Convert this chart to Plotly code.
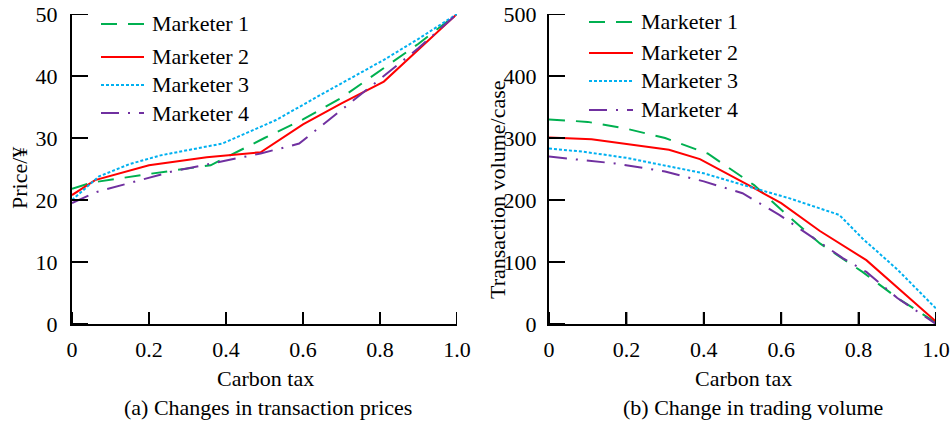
import plotly.graph_objects as go

# ---- (a) transaction price vs carbon tax ----
price_m1_x = [0, 0.05, 0.2, 0.36, 0.5, 0.6, 0.7, 0.8, 0.9, 1.0]
price_m1_y = [21.8, 22.8, 24.2, 25.6, 30.0, 33.0, 36.5, 40.8, 45.2, 50.0]
price_m2_x = [0, 0.06, 0.2, 0.35, 0.49, 0.6, 0.7, 0.81, 1.0]
price_m2_y = [20.8, 23.2, 25.6, 26.9, 27.7, 32.2, 35.6, 39.1, 50.0]
price_m3_x = [0, 0.07, 0.15, 0.23, 0.39, 0.53, 0.65, 0.81, 0.9, 1.0]
price_m3_y = [20.0, 23.8, 25.8, 27.2, 29.1, 32.9, 37.1, 42.6, 46.0, 50.0]
price_m4_x = [0, 0.064, 0.26, 0.49, 0.59, 0.7, 0.78, 0.9, 1.0]
price_m4_y = [19.5, 21.3, 24.6, 27.5, 29.1, 34.5, 38.5, 44.5, 50.0]

# ---- (b) trading volume vs carbon tax ----
vol_m1_x = [0, 0.1, 0.2, 0.3, 0.41, 0.53, 0.62, 0.7, 0.81, 0.9, 1.0]
vol_m1_y = [330, 326, 315, 300, 275, 224, 173, 130, 84, 42, 2]
vol_m2_x = [0, 0.11, 0.31, 0.39, 0.53, 0.6, 0.7, 0.82, 1.0]
vol_m2_y = [301, 298, 281, 266, 219, 195, 150, 103, 4]
vol_m3_x = [0, 0.087, 0.2, 0.3, 0.4, 0.53, 0.62, 0.75, 0.81, 0.9, 1.0]
vol_m3_y = [283, 278, 268, 256, 243, 219, 203, 176, 138, 88, 25]
vol_m4_x = [0, 0.17, 0.3, 0.4, 0.5, 0.595, 0.68, 0.76, 0.82, 0.9, 1.0]
vol_m4_y = [270, 259, 246, 230, 211, 176, 140, 106, 84, 42, 0]

names = ["Marketer 1", "Marketer 2", "Marketer 3", "Marketer 4"]
colors = ["#00B050", "#FF0000", "#00B0F0", "#7030A0"]
dashes = ["16px,11px", "solid", "3px,2px", "18px,9px,2px,9px"]

x_tickvals = [0, 0.2, 0.4, 0.6, 0.8, 1.0]
x_ticktext = ["0", "0.2", "0.4", "0.6", "0.8", "1.0"]
price_ticks = [0, 10, 20, 30, 40, 50]
vol_ticks = [0, 100, 200, 300, 400, 500]

FONT = "Liberation Serif, Times New Roman, serif"
W, H = 952, 423
X_TICK_LEN, Y_TICK_LEN = 12, 16

# plot-area edges in pixels
LEFT_PANEL = (72, 457)
RIGHT_PANEL = (549, 936)
TOP, BOTTOM = 14, 324
X_RANGE = [0, 1]
PRICE_RANGE = [0, 50]
VOL_RANGE = [0, 500]

fig = go.Figure()

price_series = [(price_m1_x, price_m1_y), (price_m2_x, price_m2_y),
                (price_m3_x, price_m3_y), (price_m4_x, price_m4_y)]
vol_series = [(vol_m1_x, vol_m1_y), (vol_m2_x, vol_m2_y),
              (vol_m3_x, vol_m3_y), (vol_m4_x, vol_m4_y)]

for i, (xs, ys) in enumerate(price_series):
    fig.add_trace(go.Scatter(x=xs, y=ys, mode="lines", name=names[i],
                             line=dict(color=colors[i], width=2, dash=dashes[i]),
                             xaxis="x", yaxis="y", showlegend=False))
for i, (xs, ys) in enumerate(vol_series):
    fig.add_trace(go.Scatter(x=xs, y=ys, mode="lines", name=names[i],
                             line=dict(color=colors[i], width=2, dash=dashes[i]),
                             xaxis="x2", yaxis="y2", showlegend=False))


def add_tick_marks(xa, ya, panel, yrange, yvals):
    """Inward tick marks drawn on the panel's own axes at the tick values."""
    x_per_px = (X_RANGE[1] - X_RANGE[0]) / (panel[1] - panel[0])
    y_per_px = (yrange[1] - yrange[0]) / (BOTTOM - TOP)
    tx, ty = [], []
    for v in x_tickvals:
        tx += [v, v, None]
        ty += [yrange[0], yrange[0] + X_TICK_LEN * y_per_px, None]
    for v in yvals:
        tx += [X_RANGE[0], X_RANGE[0] + Y_TICK_LEN * x_per_px, None]
        ty += [v, v, None]
    fig.add_trace(go.Scatter(x=tx, y=ty, mode="lines", xaxis=xa, yaxis=ya,
                             line=dict(color="black", width=2),
                             cliponaxis=False, hoverinfo="skip",
                             showlegend=False))


add_tick_marks("x", "y", LEFT_PANEL, PRICE_RANGE, price_ticks)
add_tick_marks("x2", "y2", RIGHT_PANEL, VOL_RANGE, vol_ticks)


def px_x(p):
    return p / W


def px_y(p):
    return 1 - p / H


txt_font = dict(family=FONT, size=22, color="black")

axis_common = dict(showline=True, linecolor="black", linewidth=2,
                   ticks="inside", tickcolor="#000000", tickwidth=2,
                   showgrid=False, zeroline=False, automargin=False,
                   tickfont=txt_font)

xaxis_common = dict(axis_common, range=X_RANGE, tickmode="array",
                    tickvals=x_tickvals, ticktext=x_ticktext,
                    ticklen=X_TICK_LEN, ticklabelstandoff=5)


def note(text, x, y, angle=0, xanchor="center"):
    return dict(text=text, x=px_x(x), y=px_y(y), xref="paper", yref="paper",
                xanchor=xanchor, yanchor="middle", textangle=angle,
                showarrow=False, font=txt_font)


annotations = [
    note("Price/¥", 20, 178, -90),
    note("Transaction volume/case", 497, 190, -90),
    note("Carbon tax", 265, 378),
    note("Carbon tax", 743, 378),
    note("(a) Changes in transaction prices", 268, 407),
    note("(b) Change in trading volume", 753, 407),
]
shapes = []

# Key boxes for each panel: sample line followed by the series name
legend_rows = {
    "left": dict(x0=101, x1=144, tx=150, rows=[24, 57, 85, 113]),
    "right": dict(x0=589, x1=633, tx=639, rows=[22, 53, 81, 110]),
}
for key in legend_rows.values():
    for i, row in enumerate(key["rows"]):
        shapes.append(dict(type="line", xref="paper", yref="paper",
                           x0=px_x(key["x0"]), x1=px_x(key["x1"]),
                           y0=px_y(row), y1=px_y(row),
                           line=dict(color=colors[i], width=2, dash=dashes[i])))
        annotations.append(note(names[i], key["tx"], row, xanchor="left"))

fig.update_layout(
    width=W, height=H,
    margin=dict(l=0, r=0, t=0, b=0, autoexpand=False),
    plot_bgcolor="white", paper_bgcolor="white",
    font=txt_font,
    xaxis=dict(xaxis_common, domain=[px_x(LEFT_PANEL[0]), px_x(LEFT_PANEL[1])],
               anchor="y"),
    yaxis=dict(axis_common, domain=[px_y(BOTTOM), px_y(TOP)], range=PRICE_RANGE,
               tickmode="array", tickvals=price_ticks, ticklen=Y_TICK_LEN,
               ticklabelstandoff=8, anchor="x"),
    xaxis2=dict(xaxis_common, domain=[px_x(RIGHT_PANEL[0]), px_x(RIGHT_PANEL[1])],
                anchor="y2"),
    yaxis2=dict(axis_common, domain=[px_y(BOTTOM), px_y(TOP)], range=VOL_RANGE,
                tickmode="array", tickvals=vol_ticks, ticklen=Y_TICK_LEN,
                ticklabelstandoff=6, anchor="x2"),
    showlegend=False,
    annotations=annotations,
    shapes=shapes,
)

fig.write_html("out.html")
